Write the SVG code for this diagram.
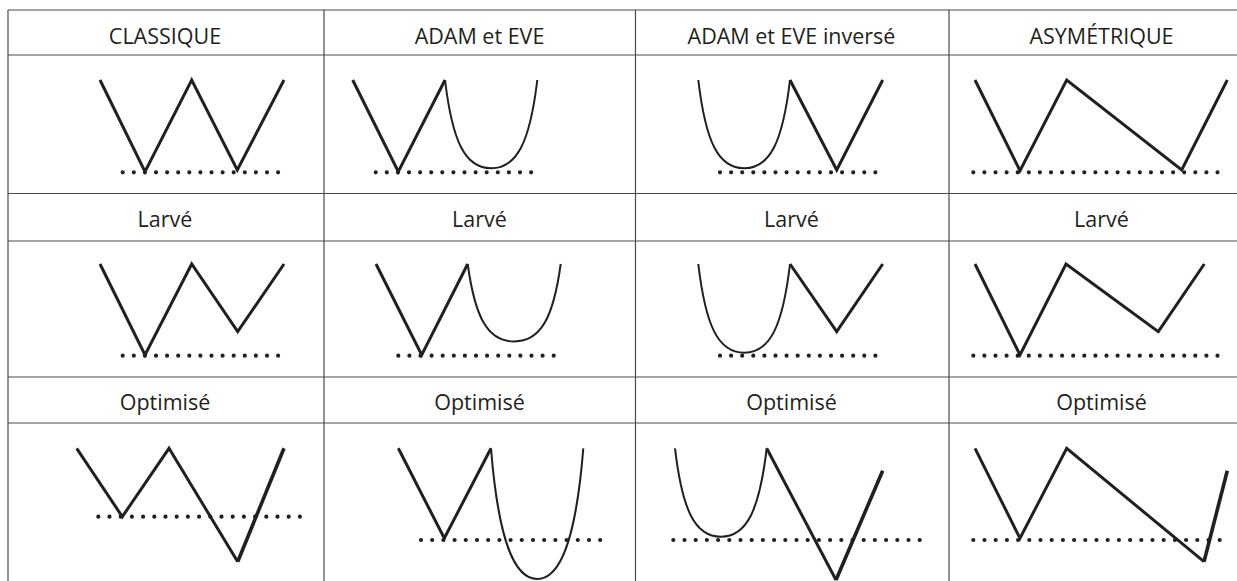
<svg xmlns="http://www.w3.org/2000/svg" width="1237" height="581" viewBox="0 0 1237 581">
<style>
.grid{stroke:#4a4a4a;stroke-width:1.2;fill:none}
.lbl{font-family:"Open Sans","Noto Sans","Liberation Sans",sans-serif;font-size:21.5px;fill:#231f20;text-anchor:middle}
.v{fill:none;stroke:#231f20;stroke-width:3;stroke-linejoin:miter;stroke-miterlimit:10}
.vt{fill:none;stroke:#231f20;stroke-width:3.6}
.u{fill:none;stroke:#231f20;stroke-width:2}
.dots{stroke:#231f20;stroke-width:4.2;stroke-linecap:round;stroke-dasharray:0 11.1}
</style>
<rect width="1237" height="581" fill="#fff"/>
<g id="grid">
<line class="grid" x1="8" y1="10" x2="1237" y2="10"/>
<line class="grid" x1="8" y1="55" x2="1237" y2="55"/>
<line class="grid" x1="8" y1="193.5" x2="1237" y2="193.5"/>
<line class="grid" x1="8" y1="241" x2="1237" y2="241"/>
<line class="grid" x1="8" y1="377" x2="1237" y2="377"/>
<line class="grid" x1="8" y1="423" x2="1237" y2="423"/>
<line class="grid" x1="8" y1="10" x2="8" y2="581"/>
<line class="grid" x1="324" y1="10" x2="324" y2="581"/>
<line class="grid" x1="635.5" y1="10" x2="635.5" y2="581"/>
<line class="grid" x1="949" y1="10" x2="949" y2="581"/>
</g>
<g id="labels">
<text class="lbl" x="165" y="43.5">CLASSIQUE</text>
<text class="lbl" x="479.5" y="43.5">ADAM et EVE</text>
<text class="lbl" x="791.5" y="43.5">ADAM et EVE inversé</text>
<text class="lbl" x="1101.5" y="43.5">ASYMÉTRIQUE</text>
<text class="lbl" x="165" y="227">Larvé</text>
<text class="lbl" x="479.5" y="227">Larvé</text>
<text class="lbl" x="791.5" y="227">Larvé</text>
<text class="lbl" x="1101.5" y="227">Larvé</text>
<text class="lbl" x="165" y="410">Optimisé</text>
<text class="lbl" x="479.5" y="410">Optimisé</text>
<text class="lbl" x="791.5" y="410">Optimisé</text>
<text class="lbl" x="1101.5" y="410">Optimisé</text>
</g>
<g id="classique">
<line class="dots" x1="122.7" y1="172.3" x2="279" y2="172.3"/>
<polyline class="v" points="100,80 145,171.7 191.7,80 237.3,170 284,80"/>
</g>
<g id="adam-eve">
<line class="dots" x1="375.7" y1="172.3" x2="532" y2="172.3"/>
<polyline class="v" points="352.7,80 398.3,171.7 445,80"/>
<path class="u" d="M445,80 C452.4,141.8 465.1,168.3 491.15,168.3 C517.2,168.3 529.9,141.8 537.3,80"/>
</g>
<g id="adam-eve-inverse">
<line class="dots" x1="720" y1="172.3" x2="876.5" y2="172.3"/>
<path class="u" d="M698.3,80 C705.6,141.8 718.2,168.3 744.15,168.3 C770.1,168.3 782.7,141.8 790,80"/>
<polyline class="v" points="790,80 836.7,170 882.7,80"/>
</g>
<g id="asymetrique">
<line class="dots" x1="973.3" y1="172.3" x2="1219.5" y2="172.3"/>
<polyline class="v" points="975,80 1020,170.7 1066.7,80 1181.7,170 1227.3,80"/>
</g>
<g id="classique-larve">
<line class="dots" x1="122.7" y1="355.7" x2="279" y2="355.7"/>
<polyline class="v" points="100,264 145,355 191.7,264 237.7,331.7 284,264"/>
</g>
<g id="adam-eve-larve">
<line class="dots" x1="398.3" y1="355.7" x2="554.5" y2="355.7"/>
<polyline class="v" points="376,264 421.7,355 467.7,264"/>
<path class="u" d="M467.7,264 C475.1,318.3 487.95,341.5 514.2,341.5 C540.45,341.5 553.3,318.3 560.7,264"/>
</g>
<g id="adam-eve-inverse-larve">
<line class="dots" x1="720" y1="355.7" x2="876.5" y2="355.7"/>
<path class="u" d="M698.3,264 C705.6,326.1 718.2,352.7 744.15,352.7 C770.1,352.7 782.7,326.1 790,264"/>
<polyline class="v" points="790,264 836.7,331.7 882.7,264"/>
</g>
<g id="asymetrique-larve">
<line class="dots" x1="973.3" y1="355.7" x2="1219.5" y2="355.7"/>
<polyline class="v" points="975,264 1020,355 1066,264 1158.3,331.7 1204.3,264"/>
</g>
<g id="classique-optimise">
<line class="dots" x1="98.3" y1="516.7" x2="300.5" y2="516.7" style="stroke-dasharray:0 11.2"/>
<polyline class="v" points="76.7,448.3 122.3,516.7 169,448.3 237.7,561.7"/>
<line class="vt" x1="237.7" y1="561.7" x2="284" y2="448.3"/>
</g>
<g id="adam-eve-optimise">
<line class="dots" x1="421" y1="540" x2="601" y2="540" style="stroke-dasharray:0 11.2"/>
<polyline class="v" points="398.3,448.3 444.3,538.3 491,448.3"/>
<path class="u" d="M491,448.3 C498.4,540.5 514.1,579 537.15,579 C560.2,579 575.9,540.5 583.3,448.3"/>
</g>
<g id="adam-eve-inverse-optimise">
<line class="dots" x1="673.3" y1="540" x2="920.5" y2="540" style="stroke-dasharray:0 11.2"/>
<path class="u" d="M675,448.3 C682.3,510.2 694.9,536.7 720.85,536.7 C746.8,536.7 759.4,510.2 766.7,448.3"/>
<polyline class="v" points="766.7,448.3 836,580"/>
<line class="vt" x1="836" y1="580" x2="882.7" y2="470.7"/>
</g>
<g id="asymetrique-optimise">
<line class="dots" x1="973.3" y1="540" x2="1220.5" y2="540" style="stroke-dasharray:0 11.2"/>
<polyline class="v" points="975,448.3 1020,538.3 1066.7,448.3 1204,561.7"/>
<line class="vt" x1="1204" y1="561.7" x2="1227.3" y2="470.7"/>
</g>
</svg>
